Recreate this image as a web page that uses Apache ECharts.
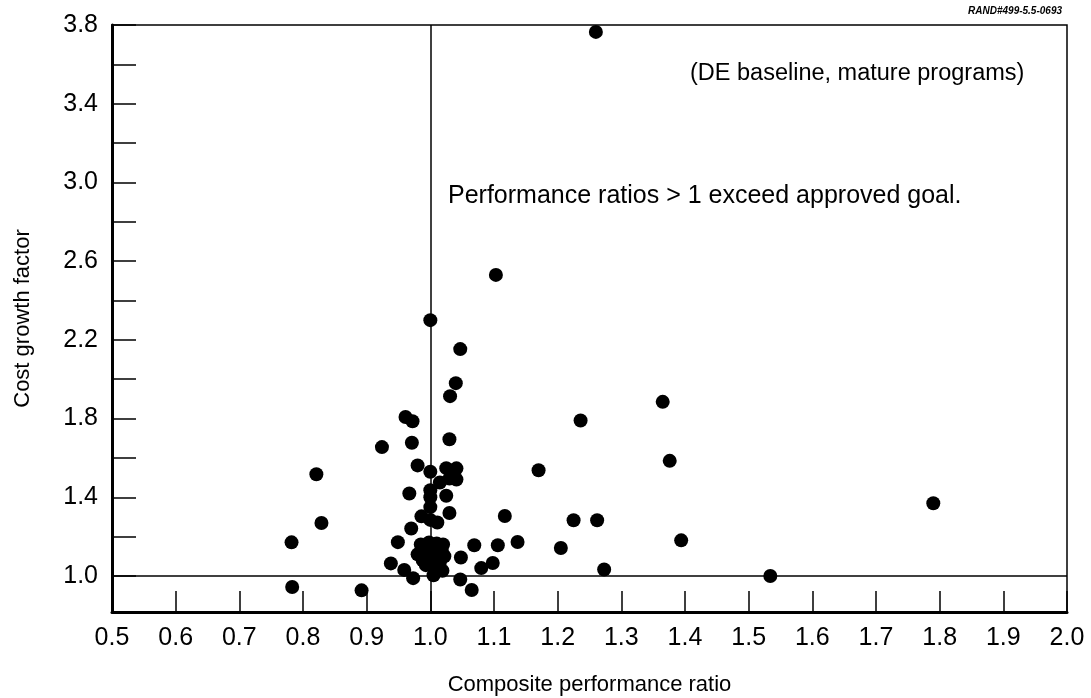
<!DOCTYPE html>
<html>
<head>
<meta charset="utf-8">
<script src="https://cdn.jsdelivr.net/npm/echarts@6/dist/echarts.min.js"></script>
<style>html,body{margin:0;padding:0;background:#fff;}#c{width:1091px;height:698px;}</style>
</head>
<body>
<div id="c"></div>
<script>
// Composite performance ratio (x) and cost growth factor (y)
var perfRatio = [1.26,1.103,1.00,1.047,1.040,1.031,0.961,0.972,1.365,1.236,
  0.924,0.971,1.030,1.376,0.821,0.980,1.000,1.025,1.041,1.170,
  1.015,1.030,1.041,1.000,0.967,1.025,1.000,1.000,1.030,0.986,
  1.000,1.011,1.117,1.225,1.262,1.79,0.829,0.970,0.782,0.949,
  1.069,1.106,1.137,1.394,1.205,0.985,0.998,1.010,1.020,0.990,
  1.003,1.018,0.980,0.995,1.008,1.022,0.988,1.002,1.015,0.993,
  1.008,1.048,0.938,0.959,1.080,1.098,0.973,1.005,1.019,1.047,
  1.065,0.892,0.783,1.273,1.534];
var costGrowth = [3.765,2.53,2.30,2.153,1.98,1.914,1.808,1.786,1.885,1.79,
  1.655,1.677,1.695,1.585,1.517,1.562,1.53,1.548,1.547,1.537,
  1.475,1.495,1.49,1.436,1.419,1.408,1.40,1.35,1.32,1.303,
  1.285,1.272,1.305,1.283,1.283,1.37,1.269,1.241,1.171,1.172,
  1.156,1.156,1.173,1.181,1.142,1.16,1.17,1.165,1.16,1.13,
  1.14,1.13,1.11,1.10,1.11,1.10,1.08,1.075,1.07,1.055,
  1.045,1.094,1.064,1.031,1.04,1.066,0.989,1.004,1.027,0.982,
  0.929,0.927,0.944,1.033,1.0];
var yTickValues = [1.0,1.2,1.4,1.6,1.8,2.0,2.2,2.4,2.6,2.8,3.0,3.2,3.4,3.6,3.8];
var yLabelValues = [1.0,1.4,1.8,2.2,2.6,3.0,3.4,3.8];
var refX = 1.0, refY = 1.0;
var noteTop = '(DE baseline, mature programs)';
var noteMid = 'Performance ratios > 1 exceed approved goal.';
var sourceTag = 'RAND#499-5.5-0693';

var points = perfRatio.map(function(x, i){ return [x, costGrowth[i]]; });
var FF = '"Liberation Sans", Arial, Helvetica, sans-serif';

var chart = echarts.init(document.getElementById('c'), null, {renderer:'canvas'});
chart.setOption({
  animation: false,
  backgroundColor: '#fff',
  grid: {left:112, right:24, top:25, bottom:86, outerBoundsMode:'none', containLabel:false,
    show:true, borderColor:'#000', borderWidth:1.5, backgroundColor:'transparent'},
  xAxis: {
    type:'value', min:0.5, max:2.0, interval:0.1,
    name:'Composite performance ratio', nameLocation:'middle', nameGap:62,
    nameTextStyle:{fontFamily:FF, fontSize:22, color:'#000'},
    axisLine:{show:true, onZero:false, lineStyle:{color:'#000', width:3}},
    axisTick:{show:true, inside:true, length:21, lineStyle:{color:'#000', width:1.5}},
    axisLabel:{fontFamily:FF, fontSize:25, color:'#000', margin:14,
      formatter:function(v){return v.toFixed(1);}},
    splitLine:{show:false}
  },
  yAxis: {
    type:'value', min:0.817, max:3.8,
    name:'Cost growth factor', nameLocation:'middle', nameGap:78, nameRotate:90,
    nameTextStyle:{fontFamily:FF, fontSize:22, color:'#000'},
    axisLine:{show:true, onZero:false, lineStyle:{color:'#000', width:3}},
    axisTick:{show:true, inside:true, length:24, customValues:yTickValues, lineStyle:{color:'#000', width:1.5}},
    axisLabel:{fontFamily:FF, fontSize:25, color:'#000', margin:14, customValues:yLabelValues,
      formatter:function(v){return v.toFixed(1);}},
    splitLine:{show:false}
  },
  series: [{
    type:'scatter',
    data: points,
    symbol:'circle', symbolSize:14,
    itemStyle:{color:'#000', opacity:1},
    markLine:{
      silent:true, symbol:['none','none'], label:{show:false},
      lineStyle:{color:'#000', width:1.5, type:'solid'},
      data:[{xAxis:refX},{yAxis:refY}]
    }
  }],
  graphic: [
    {type:'text', left:690, top:62, style:{text:noteTop, font:'23.5px '+FF, fill:'#000'}},
    {type:'text', left:448, top:184, style:{text:noteMid, font:'25px '+FF, fill:'#000'}},
    {type:'text', right:29, top:6, style:{text:sourceTag, font:'italic bold 10px '+FF, fill:'#000'}}
  ]
});
</script>
</body>
</html>
